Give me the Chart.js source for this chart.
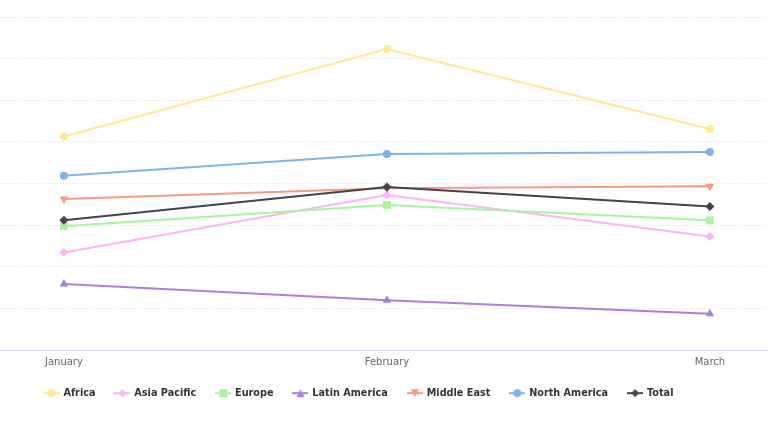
<!DOCTYPE html>
<html>
<head>
<meta charset="utf-8">
<script src="https://cdn.jsdelivr.net/npm/chart.js@4/dist/chart.umd.min.js"></script>
<style>
  html, body { margin: 0; padding: 0; background: #ffffff; }
  #wrap { width: 768px; height: 425px; position: relative; }
</style>
</head>
<body>
<div id="wrap"><canvas id="c"></canvas></div>
<script>
const categories = ["January", "February", "March"];

const seriesNames = ["Africa", "Asia Pacific", "Europe", "Latin America", "Middle East", "North America", "Total"];

const africa       = [51.3, 72.3, 53.1];
const asiaPacific  = [23.5, 37.3, 27.3];
const europe       = [29.8, 34.9, 31.2];
const latinAmerica = [15.9, 12.0, 8.8];
const middleEast   = [36.3, 38.9, 39.4];
const northAmerica = [41.9, 47.1, 47.6];
const total        = [31.2, 39.2, 34.5];

const seriesValues = [africa, asiaPacific, europe, latinAmerica, middleEast, northAmerica, total];

const colors  = ["#ffea8f", "#fcb5f5", "#a6f79c", "#ab7edf", "#fc9780", "#7cb5ec", "#434348"];
const markers = ["circle", "diamond", "square", "triangle", "triangle-down", "circle", "diamond"];

function chartStyle(m) {
  switch (m) {
    case "circle": return { style: "circle", radius: 4, rotation: 0 };
    case "diamond": return { style: "rectRot", radius: 4.5, rotation: 0 };
    case "square": return { style: "rect", radius: 5.5, rotation: 0 };
    case "triangle": return { style: "triangle", radius: 5, rotation: 0 };
    case "triangle-down": return { style: "triangle", radius: 5, rotation: 180 };
  }
}

function legendImage(color, m) {
  const cv = document.createElement("canvas");
  cv.width = 16; cv.height = 10;
  const g = cv.getContext("2d");
  g.strokeStyle = color; g.lineWidth = 2;
  g.beginPath(); g.moveTo(0, 5); g.lineTo(16, 5); g.stroke();
  g.fillStyle = color;
  g.beginPath();
  const cx = 8, cy = 5, r = 4;
  if (m === "circle") { g.arc(cx, cy, r, 0, Math.PI * 2); }
  else if (m === "diamond") { g.moveTo(cx, cy - r); g.lineTo(cx + r, cy); g.lineTo(cx, cy + r); g.lineTo(cx - r, cy); g.closePath(); }
  else if (m === "square") { g.rect(cx - r, cy - r, 2 * r, 2 * r); }
  else if (m === "triangle") { g.moveTo(cx, cy - r); g.lineTo(cx + r, cy + r); g.lineTo(cx - r, cy + r); g.closePath(); }
  else if (m === "triangle-down") { g.moveTo(cx - r, cy - r); g.lineTo(cx + r, cy - r); g.lineTo(cx, cy + r); g.closePath(); }
  g.fill();
  return cv;
}

const legendImgs = seriesNames.map((n, i) => legendImage(colors[i], markers[i]));

const datasets = seriesNames.map((name, i) => {
  const st = chartStyle(markers[i]);
  return {
    label: name,
    data: seriesValues[i].map((v, j) => ({ x: j, y: v })),
    borderColor: colors[i],
    backgroundColor: colors[i],
    borderWidth: 2,
    tension: 0,
    pointStyle: st.style,
    pointRadius: st.radius,
    pointRotation: st.rotation,
    pointBorderWidth: 0,
    pointBackgroundColor: colors[i],
    order: seriesNames.length - i
  };
});

Chart.defaults.font.family = "'DejaVu Sans', sans-serif";

const legendShift = {
  id: "legendShift",
  afterLayout(chart) {
    if (chart.legend) { chart.legend.right = chart.legend.right - 50; }
  }
};

new Chart(document.getElementById("c"), {
  type: "line",
  data: { datasets },
  options: {
    responsive: true,
    maintainAspectRatio: false,
    animation: false,
    events: [],
    layout: { autoPadding: false, padding: { top: 17, bottom: 17, left: 0, right: 0 } },
    scales: {
      x: {
        type: "linear",
        min: -0.198,
        max: 2.18,
        afterBuildTicks: (scale) => { scale.ticks = categories.map((c, i) => ({ value: i })); },
        afterFit: (scale) => { scale.height = 18; },
        ticks: {
          callback: (v) => categories[v],
          color: "#666666",
          font: { size: 10 },
          padding: 6,
          maxRotation: 0,
          autoSkip: false
        },
        grid: { display: false, drawTicks: false },
        border: { display: true, color: "#ccd6eb", width: 1 }
      },
      y: {
        min: 0,
        max: 80,
        ticks: { display: false, stepSize: 10 },
        grid: { color: "#d8d8d8", lineWidth: 1, drawTicks: false },
        border: { display: false, dash: [1, 2] }
      }
    },
    plugins: {
      tooltip: { enabled: false },
      legend: {
        position: "bottom",
        labels: {
          usePointStyle: true,
          pointStyleWidth: 14,
          padding: 20,
          color: "#333333",
          font: { size: 9.7, weight: "bold" },
          sort: (a, b) => a.datasetIndex - b.datasetIndex,
          generateLabels: (chart) => {
            const items = Chart.defaults.plugins.legend.labels.generateLabels(chart);
            return items.map((it) => Object.assign(it, { pointStyle: legendImgs[it.datasetIndex], rotation: 0 }));
          }
        }
      }
    }
  },
  plugins: [legendShift]
});
</script>
</body>
</html>
